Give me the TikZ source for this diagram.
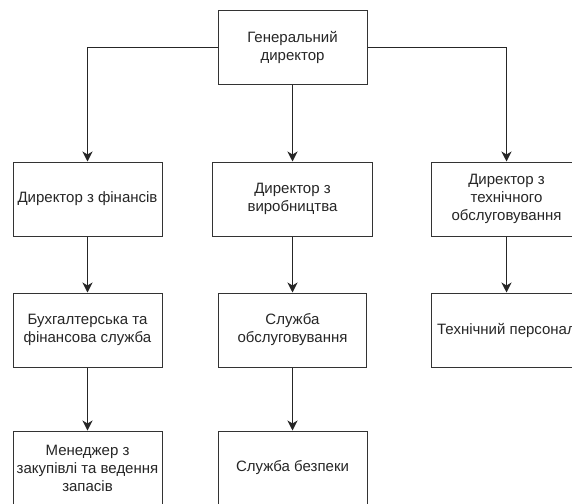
\documentclass[tikz,border=0pt]{standalone}
\usepackage{fontspec}
\setmainfont{Liberation Sans}
\usetikzlibrary{arrows.meta}
\begin{document}
\begin{tikzpicture}[x=1pt,y=-1pt,
  box/.style={draw=black!80, line width=1pt, fill=white, align=center,
    text=black!85, font=\fontsize{15}{18}\selectfont, inner sep=0pt},
  link/.style={draw=black!85, line width=1.1pt,
    -{Stealth[length=10pt,width=10pt,inset=3pt]}}]
\useasboundingbox (0,0) rectangle (572,503);
\clip (0,0) rectangle (572,503);
\fill[white] (0,0) rectangle (572,503);

\node[box, minimum width=149pt, minimum height=73pt] (gd) at (292.5,47.5) {Генеральний\\директор};

\node[box, minimum width=149pt, minimum height=74pt] (d1) at (87.5,199) {Директор з фінансів};
\node[box, minimum width=160pt, minimum height=74pt] (d2) at (292.5,199) {Директор з\\виробництва};
\node[box, minimum width=150pt, minimum height=74pt] (d3) at (506.5,199) {Директор з\\технічного\\обслуговування};

\node[box, minimum width=149pt, minimum height=74pt] (s1) at (87.5,330) {Бухгалтерська та\\фінансова служба};
\node[box, minimum width=148pt, minimum height=74pt] (s2) at (292.5,330) {Служба\\обслуговування};
\node[box, minimum width=150pt, minimum height=74pt] (s3) at (506.5,330) {Технічний персонал};

\node[box, minimum width=149pt, minimum height=74pt] (m1) at (87.5,468) {Менеджер з\\закупівлі та ведення\\запасів};
\node[box, minimum width=149pt, minimum height=74pt] (m2) at (292.5,468) {Служба безпеки};

\draw[link] (gd.west) -| (d1.north);
\draw[link] (gd.south) -- (d2.north);
\draw[link] (gd.east) -| (d3.north);
\draw[link] (d1) -- (s1);
\draw[link] (s1) -- (m1);
\draw[link] (d2) -- (s2);
\draw[link] (s2) -- (m2);
\draw[link] (d3) -- (s3);
\end{tikzpicture}
\end{document}
